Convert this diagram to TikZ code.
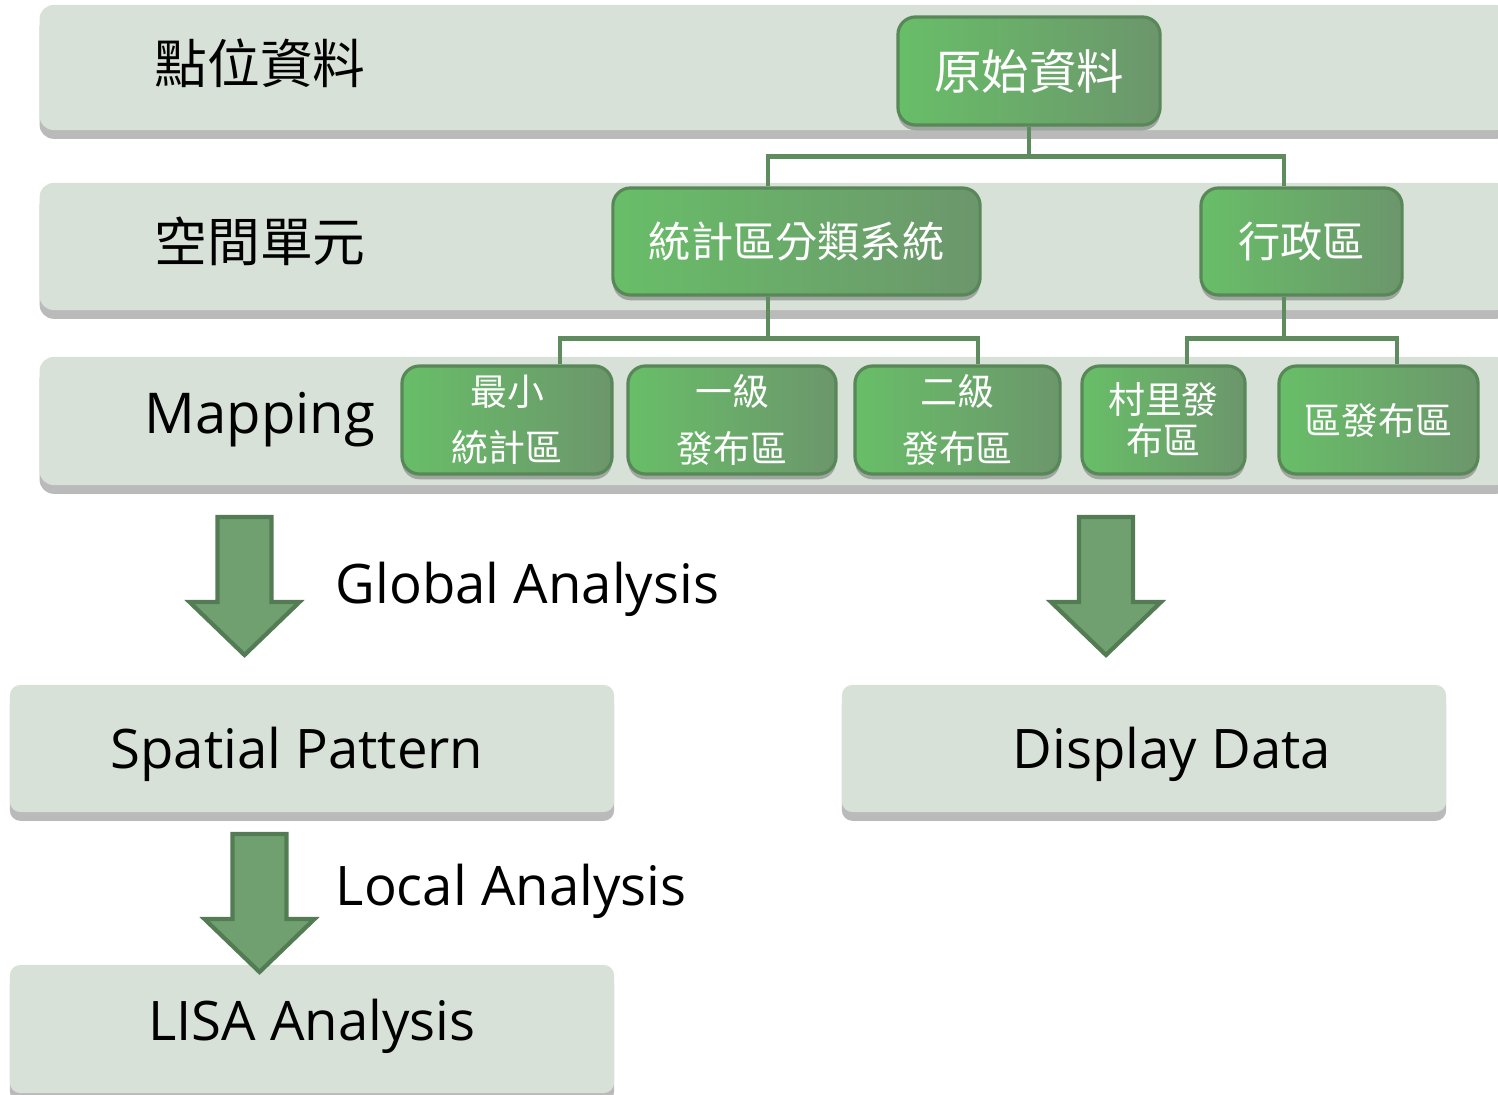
\documentclass[tikz,border=0pt]{standalone}
\usepackage{fontspec}
\setmainfont{Open Sans}
\newfontfamily\cjk{Noto Sans CJK TC}
\usetikzlibrary{shadows}

\definecolor{bandbg}{RGB}{215,225,215}
\definecolor{nodelight}{RGB}{104,190,104}
\definecolor{nodedark}{RGB}{108,150,108}
\definecolor{nodeedge}{RGB}{88,135,88}
\definecolor{linkgreen}{RGB}{94,140,94}
\definecolor{arrowfill}{RGB}{112,160,112}
\definecolor{arrowedge}{RGB}{84,124,84}

\begin{document}
\begin{tikzpicture}[x=0.01cm, y=-0.01cm,
  band/.style={fill=bandbg, rounded corners=4pt, inner sep=0pt,
    drop shadow={shadow xshift=0pt, shadow yshift=-2.5pt, opacity=0.45, fill=black!60}},
  bandlabel/.style={font=\cjk\fontsize{15}{18}\selectfont, text=black},
  greennode/.style={draw=nodeedge, line width=0.9pt, rounded corners=5pt,
    left color=nodelight, right color=nodedark, text=white, align=center, inner sep=0pt,
    minimum height=1.08cm,
    drop shadow={shadow xshift=0pt, shadow yshift=-1.5pt, opacity=0.4, fill=black!70}},
  link/.style={draw=linkgreen, line width=1.2pt},
  flowarrow/.style={fill=arrowfill, draw=arrowedge, line width=1.2pt},
  entext/.style={font=\fontsize{15.5}{19}\selectfont, text=black, inner sep=0pt},
  pics/downarr/.style={code={
    \draw[flowarrow] (-27,0) -- (27,0) -- (27,85) -- (55,85) -- (0,138)
      -- (-55,85) -- (-27,85) -- cycle;}}
]
\clip (0,0) rectangle (1498,1095);

% bands
\node[band, minimum width=14.70cm, minimum height=1.25cm] (bandA) at (775,67.5) {};
\node[band, minimum width=14.70cm, minimum height=1.27cm] (bandB) at (775,246.5) {};
\node[band, minimum width=14.70cm, minimum height=1.28cm] (bandC) at (775,421) {};
\node[bandlabel] (lblA) at (260,63) {點位資料};
\node[bandlabel] (lblB) at (260,241) {空間單元};
\node[entext, font=\fontsize{16}{19}\selectfont] (lblC) at (260,420) {Mapping};

% tree nodes
\node[greennode, minimum width=2.62cm, font=\cjk\fontsize{13.5}{16}\selectfont] (raw) at (1029,71) {原始資料};
\node[greennode, minimum width=3.67cm, minimum height=1.07cm, font=\cjk\fontsize{12}{14}\selectfont] (stat) at (796.5,241.5) {統計區分類系統};
\node[greennode, minimum width=2.01cm, minimum height=1.07cm, font=\cjk\fontsize{12}{14}\selectfont] (admin) at (1301.5,241.5) {行政區};
\node[greennode, minimum width=2.10cm, font=\cjk\fontsize{10.5}{16}\selectfont] (min) at (507,420) {最小\\統計區};
\node[greennode, minimum width=2.08cm, font=\cjk\fontsize{10.5}{16}\selectfont] (lvone) at (732,420) {一級\\發布區};
\node[greennode, minimum width=2.05cm, font=\cjk\fontsize{10.5}{16}\selectfont] (lvtwo) at (957.5,420) {二級\\發布區};
\node[greennode, minimum width=1.63cm, font=\cjk\fontsize{10.5}{11.5}\selectfont] (vil) at (1163.5,420) {村里發\\布區};
\node[greennode, minimum width=1.99cm, font=\cjk\fontsize{10.5}{12}\selectfont] (dist) at (1378.5,420) {區發布區};

\draw[link] (raw.south) -- ++(0,30) -| ([xshift=-0.285cm]stat.north);
\draw[link] (raw.south) -- ++(0,30) -| ([xshift=-0.175cm]admin.north);
\draw[link] ([xshift=-0.285cm]stat.south) -- ++(0,42) -| ([xshift=0.53cm]min.north);
\draw[link] ([xshift=-0.285cm]stat.south) -- ++(0,42) -| ([xshift=0.205cm]lvtwo.north);
\draw[link] ([xshift=-0.175cm]admin.south) -- ++(0,42) -| ([xshift=0.235cm]vil.north);
\draw[link] ([xshift=-0.175cm]admin.south) -- ++(0,42) -| ([xshift=0.185cm]dist.north);

% analysis flow
\node[band, rounded corners=3pt, minimum width=6.04cm, minimum height=1.27cm] (spat) at (312,748.5) {};
\node[band, rounded corners=3pt, minimum width=6.04cm, minimum height=1.27cm] (disp) at (1144,748.5) {};
\node[band, rounded corners=3pt, minimum width=6.04cm, minimum height=1.28cm] (lisa) at (312,1029) {};
\node[entext] (spattxt) at (297,754) {Spatial Pattern};
\node[entext] (disptxt) at (1172,754) {Display Data};
\node[entext] (lisatxt) at (312,1026) {LISA Analysis};

\pic at (244.5,517) {downarr};
\pic at (1106,517) {downarr};
\pic at (259.5,834) {downarr};
\node[entext, anchor=west] (global) at (335,589) {Global Analysis};
\node[entext, anchor=west] (local) at (335,891) {Local Analysis};
\end{tikzpicture}
\end{document}
